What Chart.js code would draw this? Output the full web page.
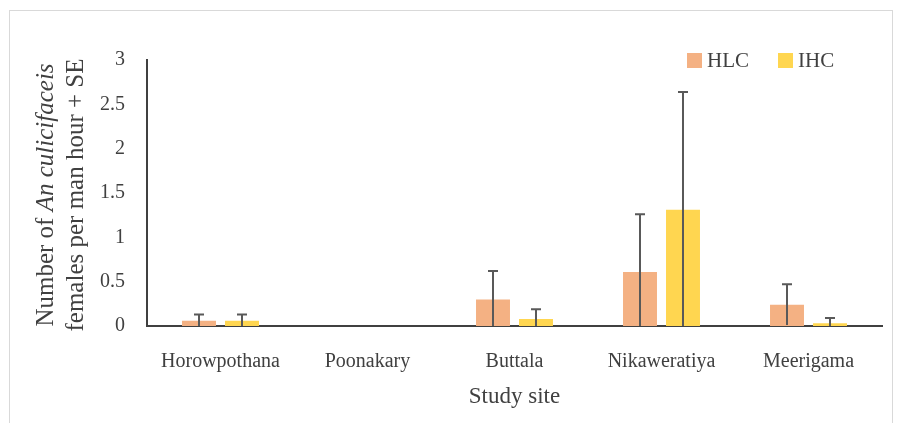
<!DOCTYPE html>
<html>
<head>
<meta charset="utf-8">
<script src="https://cdn.jsdelivr.net/npm/chart.js@4.4.1/dist/chart.umd.min.js"></script>
<style>
  html, body { margin: 0; padding: 0; background: #fff; }
  #wrap { position: relative; width: 905px; height: 423px; }
  #frame { position: absolute; left: 9px; top: 10px; width: 884px; height: 420px; border: 1px solid #d9d9d9; box-sizing: border-box; }
  #legend { position: absolute; top: 48px; left: 687px; font: 21px "Liberation Serif", "Times New Roman", serif; color: #404040; white-space: nowrap; }
  #legend span.item { display: inline-flex; align-items: center; margin-right: 29px; }
  #legend i { display: inline-block; width: 15px; height: 15px; margin-right: 5px; }
</style>
</head>
<body>
<div id="wrap">
  <div id="frame"></div>
  <canvas id="chart" width="905" height="423"></canvas>
  <div id="legend">
    <span class="item"><i style="background:#F4B183"></i>HLC</span><span class="item"><i style="background:#FFD650"></i>IHC</span>
  </div>
</div>
<script>
// dữ liệu
const sites = ['Horowpothana', 'Poonakary', 'Buttala', 'Nikaweratiya', 'Meerigama'];
const hlc = [0.06, 0, 0.30, 0.61, 0.24];
const hlcSE = [0.07, 0, 0.32, 0.65, 0.23];
const ihc = [0.06, 0, 0.08, 1.31, 0.03];
const ihcSE = [0.07, 0, 0.11, 1.33, 0.06];
const yTicks = [0, 0.5, 1, 1.5, 2, 2.5, 3];

const SERIF = '"Liberation Serif", "Times New Roman", serif';
const INK = '#404040';

// thanh sai số (+SE), vẽ từ thang đo của Chart.js
const errorBars = {
    id: 'errorBars',
    afterDatasetsDraw(chart) {
        const ctx = chart.ctx;
        const y = chart.scales.y;
        const errs = [hlcSE, ihcSE];
        ctx.save();
        ctx.strokeStyle = '#595959';
        ctx.lineWidth = 2;
        chart.data.datasets.forEach((ds, di) => {
            chart.getDatasetMeta(di).data.forEach((bar, i) => {
                const v = ds.data[i], e = errs[di][i];
                if (!e) return;
                const yTop = y.getPixelForValue(v + e);
                const yBot = y.getPixelForValue(Math.max(0, v - e));
                ctx.beginPath();
                ctx.moveTo(bar.x, yBot);
                ctx.lineTo(bar.x, yTop);
                ctx.moveTo(bar.x - 5, yTop);
                ctx.lineTo(bar.x + 5, yTop);
                ctx.stroke();
            });
        });
        ctx.restore();
    },
};

// tiêu đề trục y hai dòng, có phần in nghiêng
const yTitle = {
    id: 'yTitle',
    afterDraw(chart) {
        const ctx = chart.ctx;
        const cy = 195;
        const size = '25px ';
        const lines = [
            [['Number of ', ''], ['An culicifaceis', 'italic ']],
            [['females per man hour + SE', '']],
        ];
        const xs = [46, 76];
        ctx.save();
        ctx.fillStyle = INK;
        ctx.textBaseline = 'middle';
        ctx.textAlign = 'left';
        lines.forEach((parts, li) => {
            let total = 0;
            parts.forEach(([t, st]) => { ctx.font = st + size + SERIF; total += ctx.measureText(t).width; });
            ctx.save();
            ctx.translate(xs[li], cy);
            ctx.rotate(-Math.PI / 2);
            let x = -total / 2;
            parts.forEach(([t, st]) => {
                ctx.font = st + size + SERIF;
                ctx.fillText(t, x, 0);
                x += ctx.measureText(t).width;
            });
            ctx.restore();
        });
        ctx.restore();
    },
};

new Chart(document.getElementById('chart'), {
    type: 'bar',
    data: {
        labels: sites,
        datasets: [
            { label: 'HLC', data: hlc, backgroundColor: '#F4B183' },
            { label: 'IHC', data: ihc, backgroundColor: '#FFD650' },
        ],
    },
    options: {
        responsive: false,
        animation: false,
        layout: { padding: { left: 10, right: 23, top: 60, bottom: 0 } },
        datasets: { bar: { categoryPercentage: 0.585, barPercentage: 0.79 } },
        plugins: { legend: { display: false }, tooltip: { enabled: false } },
        scales: {
            x: {
                grid: { display: false },
                border: { display: true, color: INK, width: 2 },
                ticks: { font: { family: SERIF, size: 20 }, color: INK, padding: 16, maxRotation: 0 },
                title: { display: true, text: 'Study site', font: { family: SERIF, size: 23 }, color: INK, padding: { top: 0, bottom: 12 } },
                afterFit(s) { s.height = 97; },
            },
            y: {
                min: 0, max: 3,
                afterBuildTicks(s) { s.ticks = yTicks.map(v => ({ value: v })); },
                grid: { display: false },
                border: { display: true, color: INK, width: 2 },
                ticks: { font: { family: SERIF, size: 20 }, color: INK, padding: 14, callback: (v) => String(v) },
                afterFit(s) { s.width = 137; },
            },
        },
    },
    plugins: [errorBars, yTitle],
});
</script>
</body>
</html>
